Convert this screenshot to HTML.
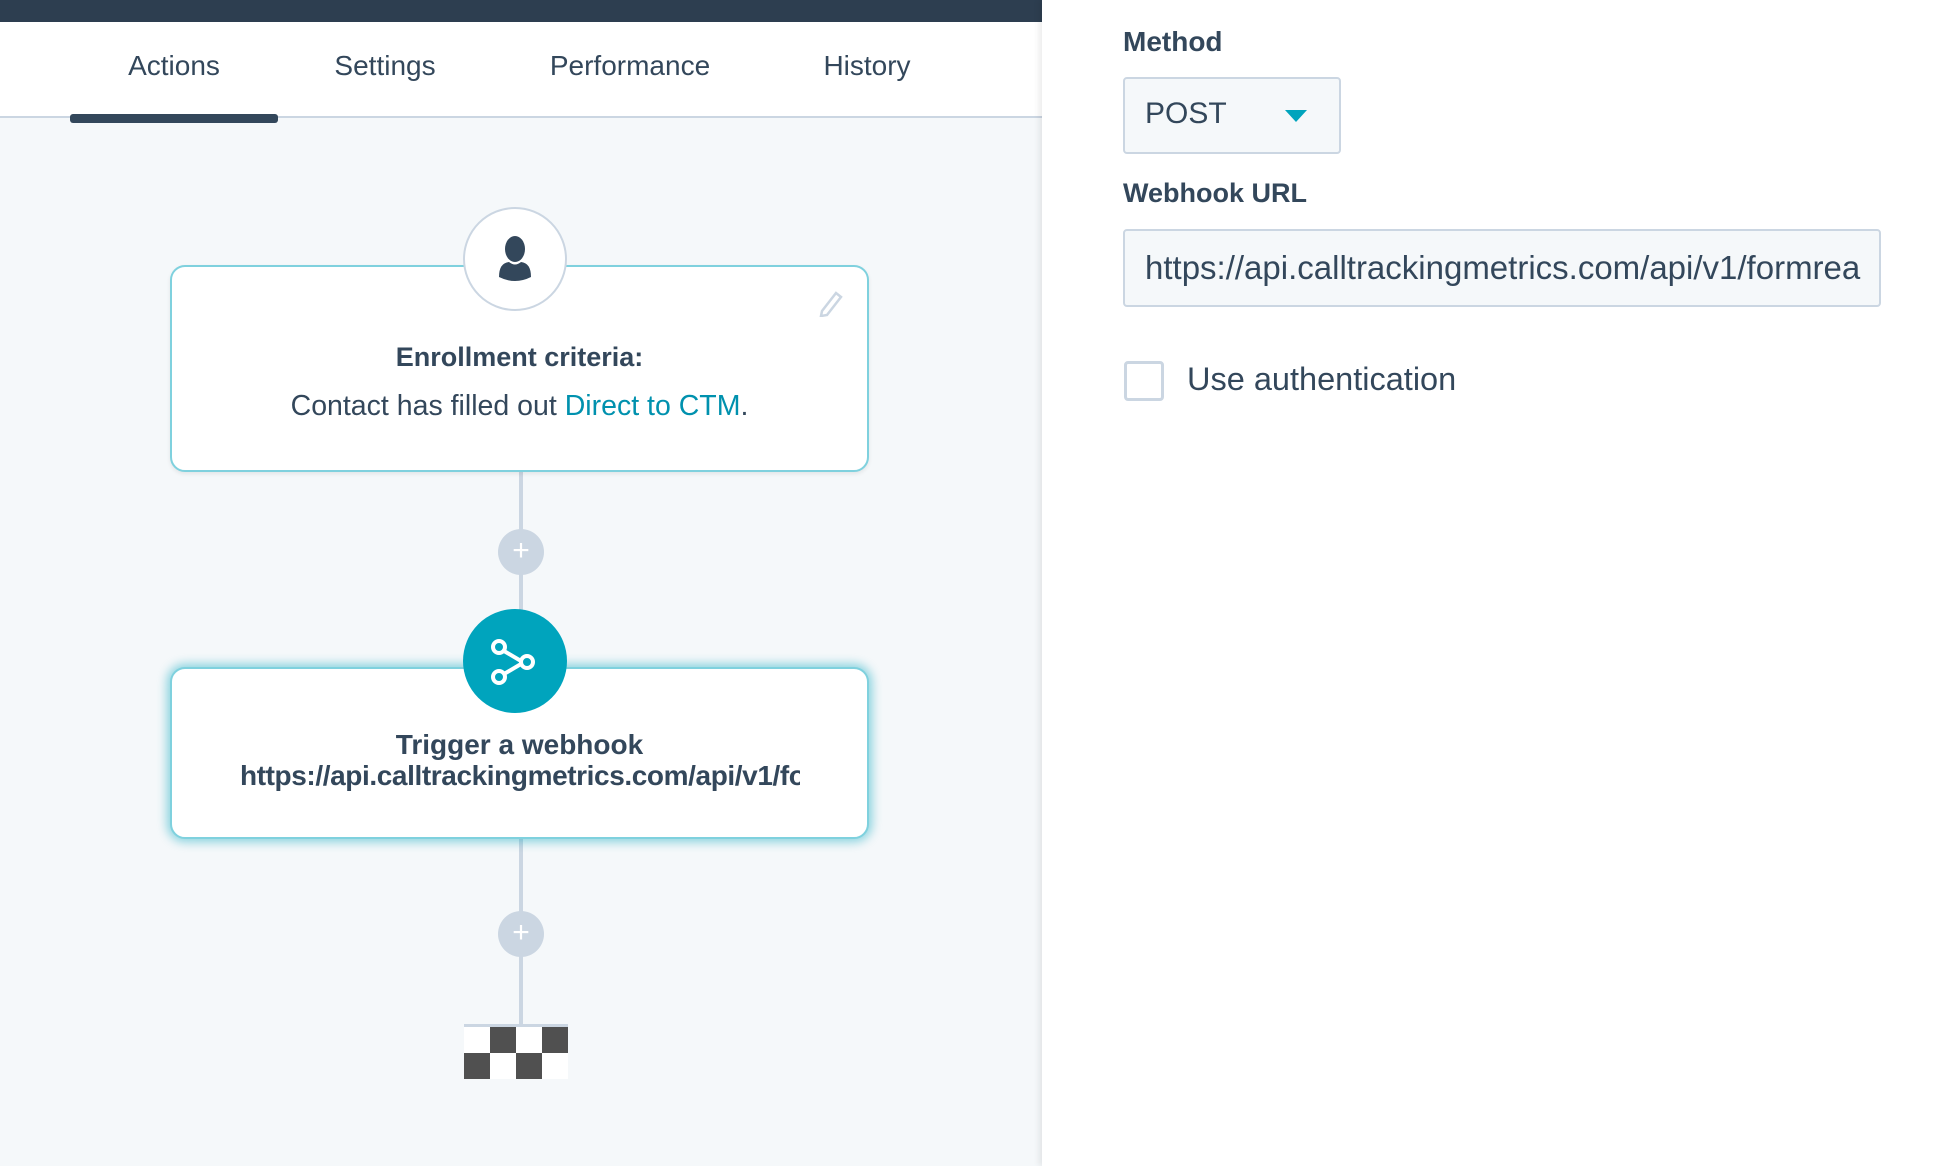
<!DOCTYPE html>
<html><head><meta charset="utf-8"><style>
*{margin:0;padding:0;box-sizing:border-box}
body{width:1936px;height:1166px;overflow:hidden;background:#f5f8fa;font-family:"Liberation Sans",sans-serif;color:#33475b;position:relative}
.a{position:absolute}
.tab{position:absolute;top:50px;font-size:28px;transform:translateX(-50%);white-space:nowrap}
</style></head><body>
<div class="a" style="left:0;top:0;width:1042px;height:22px;background:#2d3e50"></div>
<div class="a" style="left:0;top:22px;width:1042px;height:96px;background:#fff;border-bottom:2px solid #cbd6e2"></div>
<div class="tab" style="left:174px">Actions</div>
<div class="tab" style="left:385px">Settings</div>
<div class="tab" style="left:630px">Performance</div>
<div class="tab" style="left:867px">History</div>
<div class="a" style="left:70px;top:114px;width:208px;height:9px;background:#33475b;border-radius:3px"></div>

<!-- connectors -->
<div class="a" style="left:519px;top:470px;width:4px;height:556px;background:#cbd6e2"></div>
<div class="a" style="left:498px;top:529px;width:46px;height:46px;border-radius:50%;background:#cbd6e2;color:#fff;font-size:30px;text-align:center;line-height:44px">+</div>
<div class="a" style="left:498px;top:911px;width:46px;height:46px;border-radius:50%;background:#cbd6e2;color:#fff;font-size:30px;text-align:center;line-height:44px">+</div>

<!-- card 1 -->
<div class="a" style="left:170px;top:265px;width:699px;height:207px;background:#fff;border:2px solid #7fd1de;border-radius:15px;box-shadow:0 2px 4px rgba(0,0,0,.08)"></div>
<div class="a" style="left:463px;top:207px;width:104px;height:104px;border-radius:50%;background:#fff;border:2px solid #cbd6e2"></div>
<svg class="a" style="left:491px;top:233px" width="48" height="50" viewBox="0 0 48 50"><ellipse cx="24" cy="16" rx="10" ry="13" fill="#33475b"/><path d="M8 44 Q8 30 18 29 Q24 34 30 29 Q40 30 40 44 Q24 52 8 44Z" fill="#33475b"/></svg>
<svg class="a" style="left:818px;top:289px" width="26" height="28" viewBox="0 0 26 28"><path d="M4 22 L18 4 L23 8 L9 26 L3 27 Z" fill="none" stroke="#cbd6e2" stroke-width="2.5"/></svg>
<div class="a" style="left:170px;top:342px;width:699px;text-align:center;font-size:27px;font-weight:bold">Enrollment criteria:</div>
<div class="a" style="left:170px;top:390px;width:699px;text-align:center;font-size:28.5px">Contact has filled out <span style="color:#0091ae">Direct to CTM</span>.</div>

<!-- card 2 -->
<div class="a" style="left:170px;top:667px;width:699px;height:172px;background:#fff;border:2px solid #7fd1de;border-radius:15px;box-shadow:0 0 10px 3px rgba(0,164,189,.45)"></div>
<div class="a" style="left:463px;top:609px;width:104px;height:104px;border-radius:50%;background:#00a4bd"></div>
<svg class="a" style="left:485px;top:635px" width="60" height="56" viewBox="0 0 60 56"><g fill="none" stroke="#fff" stroke-width="4"><circle cx="14" cy="12" r="6"/><circle cx="14" cy="42" r="6"/><circle cx="42" cy="27" r="6"/><line x1="19" y1="16" x2="36" y2="26"/><line x1="19" y1="39" x2="36" y2="29"/></g></svg>
<div class="a" style="left:170px;top:729px;width:699px;text-align:center;font-size:28px;font-weight:bold">Trigger a webhook</div>
<div class="a" style="left:240px;top:760px;width:560px;overflow:hidden;white-space:nowrap;font-size:28px;font-weight:bold;letter-spacing:-0.4px">https://api.calltrackingmetrics.com/api/v1/formreactor</div>

<!-- flag -->
<div class="a" style="left:464px;top:1024px;width:104px;height:3px;background:#cbd6e2"></div>
<svg class="a" style="left:464px;top:1027px" width="104" height="52"><rect width="104" height="52" fill="#fff"/><rect x="26" y="0" width="26" height="26" fill="#505050"/><rect x="78" y="0" width="26" height="26" fill="#505050"/><rect x="0" y="26" width="26" height="26" fill="#505050"/><rect x="52" y="26" width="26" height="26" fill="#505050"/></svg>

<!-- right panel -->
<div class="a" style="left:1042px;top:0;width:894px;height:1166px;background:#fff;box-shadow:-3px 0 6px rgba(0,0,0,.08)"></div>
<div class="a" style="left:1123px;top:26px;font-size:28px;font-weight:bold">Method</div>
<div class="a" style="left:1123px;top:77px;width:218px;height:77px;background:#f5f8fa;border:2px solid #cbd6e2;border-radius:4px"></div>
<div class="a" style="left:1145px;top:97px;font-size:30px">POST</div>
<div class="a" style="left:1285px;top:110px;width:0;height:0;border-left:11px solid transparent;border-right:11px solid transparent;border-top:12px solid #00a4bd"></div>
<div class="a" style="left:1123px;top:178px;font-size:27px;font-weight:bold">Webhook URL</div>
<div class="a" style="left:1123px;top:229px;width:758px;height:78px;background:#f5f8fa;border:2px solid #cbd6e2;border-radius:4px"></div>
<div class="a" style="left:1145px;top:249px;width:716px;overflow:hidden;white-space:nowrap;font-size:33px">https://api.calltrackingmetrics.com/api/v1/formreactor</div>
<div class="a" style="left:1124px;top:361px;width:40px;height:40px;border:3px solid #cbd6e2;border-radius:4px;background:#fff"></div>
<div class="a" style="left:1187px;top:361px;font-size:32.5px">Use authentication</div>
</body></html>
